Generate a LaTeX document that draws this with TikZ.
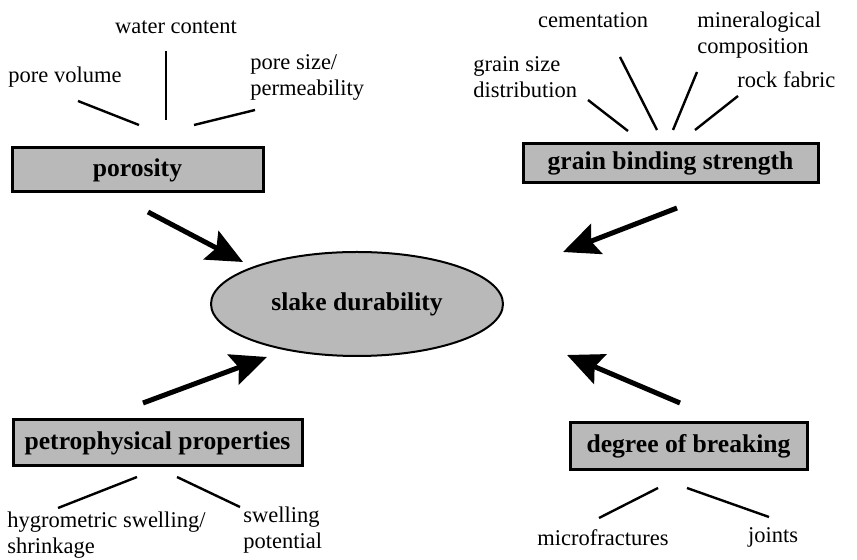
\documentclass[tikz,border=0pt]{standalone}
\usepackage{fontspec}
\setmainfont{Liberation Serif}
\usetikzlibrary{shapes.geometric,arrows.meta}
\definecolor{boxgray}{RGB}{185,185,185}

\begin{document}
\begin{tikzpicture}[x=0.5pt, y=-0.5pt]
  % Style definitions
  \tikzstyle{factor} = [rectangle, draw=black, line width=1.5pt, fill=boxgray, inner sep=0pt, font=\fontsize{12.8}{15}\selectfont\bfseries]
  \tikzstyle{item} = [inner sep=0pt, align=left, font=\fontsize{11.25}{13}\selectfont]
  \tikzstyle{spoke} = [line width=1.2pt]
  \tikzstyle{influence} = [line width=2.5pt, -{Stealth[length=18pt, width=16pt, inset=3pt]}]

  \useasboundingbox (0,0) rectangle (857,560);

  % Centre
  \node (slake) [ellipse, draw=black, line width=1pt, fill=boxgray, minimum width=146pt, minimum height=52pt, inner sep=0pt, font=\fontsize{12.8}{15}\selectfont\bfseries] at (357,304) {slake durability};

  % Factors
  \node (poro) [factor, minimum width=125.5pt, minimum height=22pt] at (137.5,170) {porosity};
  \node (grain) [factor, minimum width=147.5pt, minimum height=19.5pt] at (670.5,163.5) {grain binding strength};
  \node (petro) [factor, minimum width=144.5pt, minimum height=23pt] at (157.5,443) {petrophysical properties};
  \node (brk) [factor, minimum width=118.5pt, minimum height=23.5pt] at (688.5,446.5) {degree of breaking};

  % Sub-factors
  \node (wc) [item] at (176,27) {water content};
  \node (pv) [item, anchor=west] at (8,77) {pore volume};
  \node (ps) [item, anchor=west] at (250,77) {pore size/\\permeability};
  \node (cem) [item] at (593,20) {cementation};
  \node (mincomp) [item, anchor=west] at (697,35) {mineralogical\\composition};
  \node (gsd) [item, anchor=west] at (473,77) {grain size\\distribution};
  \node (fab) [item, anchor=west] at (737,80) {rock fabric};
  \node (hyg) [item, anchor=west] at (7,535) {hygrometric swelling/\\shrinkage};
  \node (swp) [item, anchor=west] at (243,530) {swelling\\potential};
  \node (mic) [item] at (603,538) {microfractures};
  \node (jnt) [item] at (773,537) {joints};

  % Spoke ends
  \coordinate (wc-a) at (166,51);   \coordinate (wc-b) at (166,120);
  \coordinate (pv-a) at (78,101);   \coordinate (pv-b) at (139,125);
  \coordinate (ps-a) at (255,110);  \coordinate (ps-b) at (194,125);
  \coordinate (gsd-a) at (588,100); \coordinate (gsd-b) at (628,131);
  \coordinate (cem-a) at (620,57);  \coordinate (cem-b) at (657,130);
  \coordinate (min-a) at (697,72);  \coordinate (min-b) at (673,130);
  \coordinate (fab-a) at (738,96);  \coordinate (fab-b) at (695,130);
  \coordinate (hyg-a) at (137,477); \coordinate (hyg-b) at (58,508);
  \coordinate (swp-a) at (177,477); \coordinate (swp-b) at (240,507);
  \coordinate (mic-a) at (658,488); \coordinate (mic-b) at (599,518);
  \coordinate (jnt-a) at (687,488); \coordinate (jnt-b) at (769,517);

  \draw[spoke] (wc-a) -- (wc-b);
  \draw[spoke] (pv-a) -- (pv-b);
  \draw[spoke] (ps-a) -- (ps-b);
  \draw[spoke] (gsd-a) -- (gsd-b);
  \draw[spoke] (cem-a) -- (cem-b);
  \draw[spoke] (min-a) -- (min-b);
  \draw[spoke] (fab-a) -- (fab-b);
  \draw[spoke] (hyg-a) -- (hyg-b);
  \draw[spoke] (swp-a) -- (swp-b);
  \draw[spoke] (mic-a) -- (mic-b);
  \draw[spoke] (jnt-a) -- (jnt-b);

  % Arrows
  \coordinate (poro-t) at (148,212);  \coordinate (poro-h) at (243,262);
  \coordinate (grain-t) at (677,208); \coordinate (grain-h) at (563,252);
  \coordinate (petro-t) at (143,403); \coordinate (petro-h) at (267,357);
  \coordinate (brk-t) at (680,403);   \coordinate (brk-h) at (567,355);

  \draw[influence] (poro-t) -- (poro-h);
  \draw[influence] (grain-t) -- (grain-h);
  \draw[influence] (petro-t) -- (petro-h);
  \draw[influence] (brk-t) -- (brk-h);
\end{tikzpicture}
\end{document}
